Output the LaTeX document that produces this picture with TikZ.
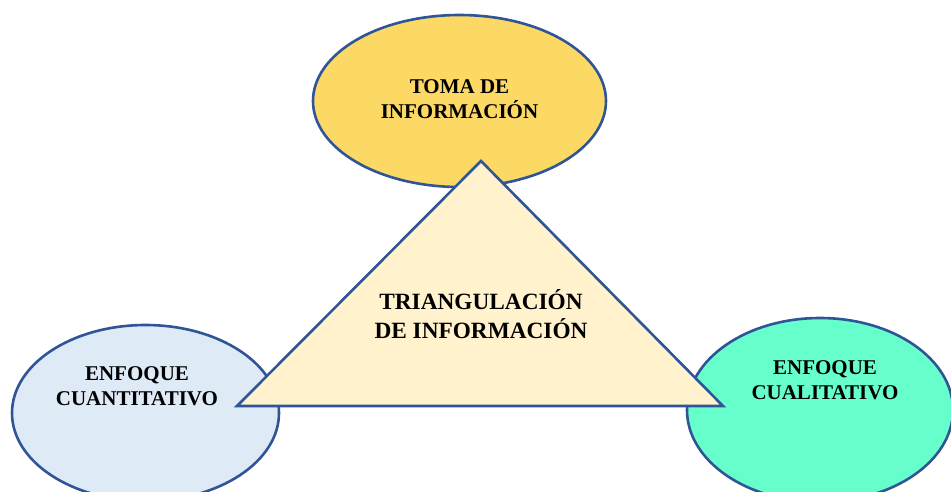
\documentclass[tikz,border=0pt]{standalone}
\usepackage{fontspec}
\setmainfont{Liberation Serif}
\usetikzlibrary{shapes.geometric}
\definecolor{edge}{HTML}{2F5597}
\definecolor{gold}{HTML}{FCD865}
\definecolor{paleblue}{HTML}{DEEAF6}
\definecolor{mint}{HTML}{66FFCC}
\definecolor{cream}{HTML}{FFF2CC}
\tikzset{
  blob/.style={ellipse, draw=edge, line width=2.6pt, inner sep=0pt},
  lbl/.style={align=center, inner sep=0pt, font=\bfseries\fontsize{21}{25}\selectfont},
  biglbl/.style={align=center, inner sep=0pt, font=\bfseries\fontsize{23.3}{28.5}\selectfont},
}
\begin{document}
\begin{tikzpicture}[x=1pt,y=-1pt]
\useasboundingbox (0,0) rectangle (951,491);
\clip (0,0) rectangle (951,491);
\node[blob, fill=gold, minimum width=293pt, minimum height=172pt] (toma) at (459.5,101) {};
\node[blob, fill=paleblue, minimum width=267pt, minimum height=176pt] (cuant) at (145.5,413) {};
\node[blob, fill=mint, minimum width=266pt, minimum height=184pt] (cual) at (820,410) {};
\coordinate (apex) at (481,161);
\coordinate (bl) at (237,406);
\coordinate (br) at (723,406);
\draw[edge, line width=2.6pt, fill=cream, line join=miter] (apex) -- (bl) -- (br) -- cycle;
\node[lbl] (tomatxt) at (459.5,99) {TOMA DE\\INFORMACIÓN};
\node[lbl] (cuanttxt) at (137,386) {ENFOQUE\\CUANTITATIVO};
\node[lbl] (cualtxt) at (825,380) {ENFOQUE\\CUALITATIVO};
\node[biglbl] (triatxt) at (481,314) {TRIANGULACIÓN\\DE INFORMACIÓN};
\end{tikzpicture}
\end{document}
